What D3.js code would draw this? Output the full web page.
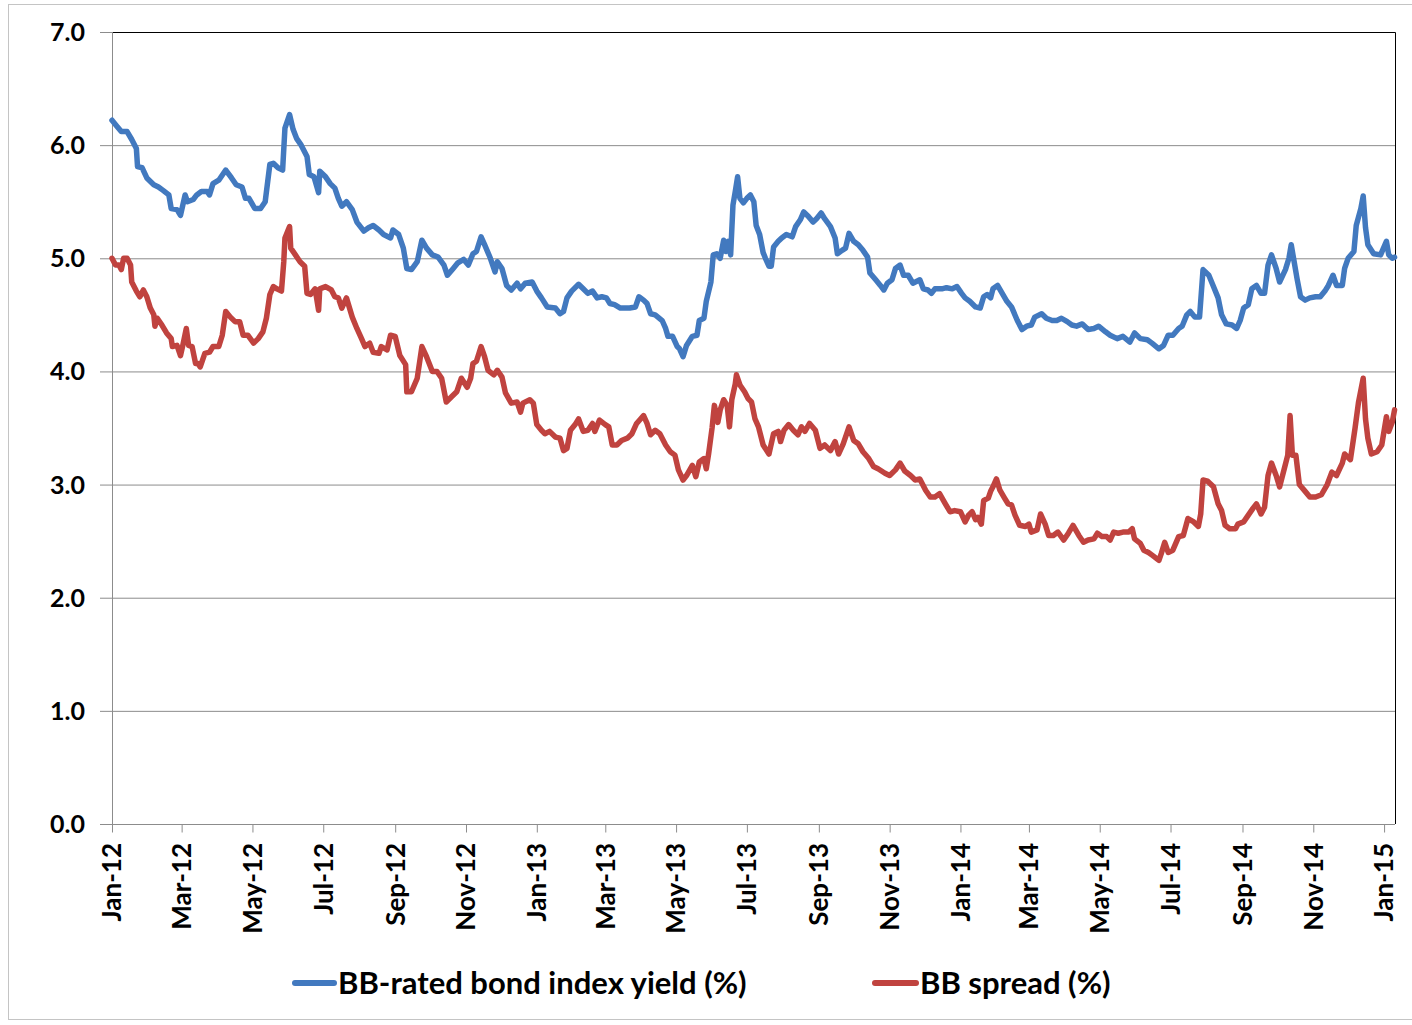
<!DOCTYPE html>
<html>
<head>
<meta charset="utf-8">
<script src="https://cdn.jsdelivr.net/npm/d3@7"></script>
<style>
  html, body { margin: 0; padding: 0; background: #fff; }
  svg { display: block; font-family: Lato, "Noto Sans", sans-serif; font-weight: bold; }
</style>
</head>
<body>
<svg id="chart" width="1412" height="1025"></svg>
<script>
// Series are [days after 1 Jan 2012, value in %]
const startDate = "2012-01-01";
const endDay = 1105.4;

const yieldSeries = [
  [0,6.22],[4,6.17],[8,6.12],[13,6.12],[17,6.05],[21,5.97],[22,5.81],[26,5.80],[30,5.71],[36,5.65],
  [40,5.63],[44,5.60],[49,5.56],[51,5.44],[56,5.43],[59,5.38],[63,5.56],[65,5.50],[70,5.52],[73,5.56],
  [77,5.59],[82,5.59],[84,5.56],[87,5.66],[92,5.69],[98,5.78],[103,5.71],[107,5.65],[112,5.63],[115,5.53],
  [118,5.53],[123,5.44],[128,5.44],[132,5.50],[136,5.83],[139,5.84],[143,5.80],[147,5.78],[149,6.15],[153,6.27],
  [156,6.14],[159,6.06],[163,6.00],[168,5.90],[170,5.74],[174,5.72],[178,5.58],[179,5.77],[184,5.72],[188,5.66],
  [192,5.62],[195,5.53],[198,5.46],[202,5.50],[207,5.43],[211,5.32],[217,5.24],[221,5.27],[225,5.29],[230,5.25],
  [234,5.21],[240,5.18],[242,5.25],[247,5.21],[251,5.09],[254,4.91],[258,4.90],[263,4.97],[267,5.16],[271,5.09],
  [276,5.03],[281,5.01],[286,4.94],[289,4.85],[294,4.91],[298,4.96],[303,4.99],[307,4.94],[311,5.04],[314,5.06],
  [318,5.19],[321,5.12],[326,5.00],[330,4.88],[332,4.97],[336,4.91],[340,4.76],[344,4.72],[349,4.78],[352,4.73],
  [356,4.78],[362,4.79],[366,4.71],[370,4.65],[375,4.57],[382,4.56],[386,4.51],[389,4.53],[392,4.65],[396,4.71],
  [402,4.77],[406,4.73],[410,4.69],[414,4.71],[418,4.65],[422,4.66],[426,4.65],[429,4.60],[433,4.59],[438,4.56],
  [442,4.56],[446,4.56],[451,4.57],[454,4.66],[458,4.63],[461,4.60],[464,4.51],[468,4.50],[474,4.45],[477,4.38],
  [479,4.31],[483,4.31],[487,4.22],[489,4.20],[492,4.13],[495,4.23],[500,4.31],[504,4.32],[506,4.45],[510,4.47],
  [512,4.62],[516,4.79],[518,5.03],[521,5.04],[524,5.00],[527,5.16],[529,5.06],[531,5.15],[533,5.03],[535,5.47],
  [537,5.59],[539,5.72],[541,5.53],[544,5.49],[547,5.53],[550,5.56],[553,5.50],[555,5.29],[558,5.21],[561,5.05],
  [563,5.00],[566,4.93],[568,4.93],[570,5.10],[574,5.15],[577,5.18],[581,5.21],[586,5.19],[589,5.28],[593,5.34],
  [596,5.41],[600,5.37],[604,5.32],[607,5.35],[611,5.40],[614,5.35],[619,5.28],[623,5.18],[625,5.04],[629,5.07],
  [632,5.09],[635,5.22],[639,5.15],[643,5.12],[647,5.07],[651,5.01],[653,4.87],[658,4.81],[662,4.76],[665,4.72],
  [668,4.78],[672,4.81],[675,4.91],[679,4.94],[682,4.85],[686,4.85],[690,4.78],[696,4.81],[699,4.73],[703,4.72],
  [706,4.69],[709,4.73],[715,4.73],[719,4.74],[724,4.73],[728,4.75],[732,4.69],[735,4.65],[739,4.62],[744,4.57],
  [748,4.56],[751,4.66],[754,4.68],[757,4.65],[759,4.73],[763,4.76],[767,4.69],[771,4.62],[775,4.57],[780,4.45],
  [784,4.37],[788,4.40],[792,4.41],[795,4.48],[801,4.51],[805,4.47],[810,4.45],[814,4.45],[818,4.47],[823,4.44],
  [827,4.41],[831,4.40],[836,4.42],[841,4.37],[846,4.38],[850,4.40],[856,4.35],[860,4.32],[866,4.29],[871,4.31],
  [877,4.26],[881,4.34],[886,4.29],[892,4.28],[896,4.25],[902,4.20],[906,4.23],[910,4.32],[914,4.32],[919,4.38],
  [922,4.40],[926,4.50],[929,4.53],[933,4.48],[937,4.48],[940,4.90],[945,4.85],[949,4.75],[953,4.65],[956,4.50],
  [960,4.42],[965,4.41],[969,4.38],[972,4.45],[975,4.56],[979,4.59],[982,4.73],[986,4.76],[990,4.69],[993,4.69],
  [996,4.94],[999,5.03],[1003,4.91],[1006,4.79],[1011,4.90],[1014,5.00],[1016,5.12],[1018,5.00],[1021,4.82],[1024,4.66],
  [1028,4.63],[1032,4.65],[1037,4.66],[1041,4.66],[1045,4.71],[1048,4.76],[1052,4.85],[1055,4.76],[1060,4.76],[1062,4.91],
  [1065,5.00],[1070,5.06],[1072,5.29],[1076,5.44],[1078,5.55],[1080,5.27],[1082,5.12],[1087,5.04],[1093,5.03],[1098,5.15],
  [1100,5.03],[1103,5.00],[1105,5.01]
];

const spreadSeries = [
  [0,5.00],[3,4.94],[6,4.94],[8,4.90],[10,5.00],[13,5.00],[16,4.94],[17,4.79],[21,4.71],[24,4.66],
  [27,4.72],[30,4.66],[33,4.56],[36,4.50],[37,4.40],[39,4.47],[43,4.41],[47,4.34],[51,4.29],[52,4.22],
  [56,4.23],[59,4.14],[61,4.23],[64,4.38],[66,4.23],[69,4.22],[72,4.07],[74,4.07],[76,4.04],[80,4.16],
  [84,4.17],[87,4.22],[92,4.22],[95,4.32],[98,4.53],[102,4.48],[106,4.44],[110,4.44],[113,4.32],[117,4.32],
  [122,4.25],[126,4.29],[130,4.35],[133,4.47],[136,4.68],[139,4.75],[142,4.73],[146,4.71],[148,4.97],[149,5.18],
  [153,5.28],[154,5.09],[158,5.03],[162,4.97],[166,4.93],[168,4.69],[171,4.68],[175,4.73],[178,4.54],[179,4.73],
  [184,4.75],[189,4.72],[192,4.66],[195,4.65],[198,4.56],[202,4.65],[207,4.48],[211,4.38],[215,4.29],[218,4.22],
  [222,4.25],[225,4.17],[230,4.16],[232,4.22],[237,4.19],[240,4.32],[244,4.31],[248,4.14],[253,4.06],[254,3.82],
  [258,3.82],[263,3.94],[267,4.22],[271,4.13],[276,4.00],[280,4.00],[284,3.94],[288,3.73],[293,3.78],[297,3.82],
  [301,3.94],[306,3.86],[309,3.94],[311,4.07],[314,4.09],[318,4.22],[321,4.13],[324,4.01],[329,3.97],[332,4.01],
  [336,3.95],[339,3.81],[344,3.72],[349,3.73],[352,3.64],[354,3.72],[360,3.75],[363,3.72],[366,3.53],[370,3.48],
  [373,3.45],[377,3.47],[382,3.42],[386,3.41],[389,3.30],[392,3.32],[395,3.48],[399,3.53],[402,3.58],[406,3.47],
  [410,3.48],[414,3.54],[416,3.47],[420,3.57],[425,3.53],[428,3.51],[431,3.35],[435,3.35],[439,3.39],[444,3.41],
  [448,3.45],[452,3.54],[458,3.61],[461,3.54],[464,3.44],[468,3.48],[472,3.45],[477,3.35],[481,3.29],[485,3.26],
  [488,3.13],[492,3.04],[495,3.08],[500,3.17],[503,3.07],[506,3.20],[510,3.23],[512,3.14],[514,3.27],[517,3.50],
  [519,3.70],[522,3.55],[524,3.66],[527,3.75],[530,3.70],[532,3.51],[534,3.75],[537,3.89],[538,3.97],[541,3.88],
  [545,3.82],[548,3.76],[551,3.73],[554,3.58],[557,3.51],[561,3.35],[566,3.27],[570,3.45],[574,3.47],[576,3.38],
  [579,3.48],[583,3.53],[587,3.48],[591,3.44],[594,3.51],[597,3.47],[601,3.54],[606,3.48],[610,3.32],[614,3.35],
  [619,3.30],[623,3.38],[626,3.27],[630,3.36],[635,3.51],[639,3.39],[643,3.36],[647,3.29],[652,3.23],[656,3.16],
  [660,3.14],[666,3.10],[670,3.08],[675,3.13],[679,3.19],[683,3.12],[688,3.08],[692,3.04],[696,3.05],[701,2.95],
  [705,2.89],[709,2.89],[713,2.92],[718,2.83],[722,2.76],[726,2.77],[731,2.76],[735,2.67],[738,2.73],[741,2.76],
  [744,2.69],[746,2.71],[749,2.65],[751,2.86],[755,2.88],[757,2.94],[759,2.98],[762,3.05],[765,2.95],[769,2.88],
  [772,2.83],[775,2.82],[778,2.73],[782,2.64],[787,2.63],[790,2.65],[792,2.58],[797,2.60],[800,2.74],[804,2.65],
  [807,2.55],[811,2.55],[815,2.58],[820,2.51],[824,2.57],[828,2.64],[833,2.55],[837,2.49],[841,2.51],[846,2.52],
  [849,2.57],[853,2.54],[857,2.54],[860,2.51],[863,2.58],[867,2.57],[871,2.58],[876,2.58],[879,2.61],[881,2.52],
  [886,2.48],[889,2.42],[893,2.40],[897,2.37],[902,2.33],[904,2.39],[907,2.49],[910,2.40],[914,2.42],[919,2.54],
  [923,2.55],[927,2.70],[932,2.67],[936,2.63],[938,2.74],[940,3.04],[944,3.03],[949,2.98],[953,2.83],[956,2.77],
  [959,2.64],[963,2.61],[968,2.61],[970,2.65],[975,2.67],[979,2.73],[983,2.79],[986,2.83],[990,2.74],[993,2.80],
  [996,3.08],[999,3.19],[1003,3.08],[1006,2.98],[1010,3.14],[1013,3.26],[1015,3.61],[1017,3.26],[1020,3.26],[1023,3.00],
  [1028,2.94],[1032,2.89],[1037,2.89],[1042,2.91],[1047,3.00],[1051,3.11],[1055,3.08],[1060,3.19],[1062,3.27],[1067,3.22],
  [1071,3.50],[1074,3.73],[1078,3.94],[1080,3.58],[1082,3.41],[1085,3.27],[1090,3.29],[1094,3.35],[1098,3.60],[1100,3.47],
  [1103,3.55],[1105,3.66]
];

const yTicks = [0, 1, 2, 3, 4, 5, 6, 7];
const seriesNames = ["BB-rated bond index yield (%)", "BB spread (%)"];
const seriesColors = ["#4279BF", "#C0433F"];

const svg = d3.select("#chart");
const plot = { left: 112, right: 1395, top: 32, bottom: 824 };

const t0 = d3.utcParse("%Y-%m-%d")(startDate);
const toDate = d => new Date(t0.getTime() + d * 864e5);

const x = d3.scaleUtc()
  .domain([t0, toDate(endDay)])
  .range([plot.left, plot.right]);
const y = d3.scaleLinear().domain([0, 7]).range([plot.bottom, plot.top]);

// Outer chart frame
svg.append("rect")
  .attr("x", 8.5).attr("y", 4.5)
  .attr("width", 1420).attr("height", 1015)
  .attr("fill", "none").attr("stroke", "#c4c4c4").attr("stroke-width", 1);

// Horizontal gridlines with outward tick stubs
const yAxis = d3.axisLeft(y)
  .tickValues(yTicks)
  .tickSize(-(plot.right - plot.left) - 12)
  .tickFormat("");
const gy = svg.append("g")
  .attr("transform", `translate(${plot.right},0)`)
  .call(yAxis);
gy.select(".domain").remove();
gy.selectAll(".tick line")
  .attr("x1", 0)
  .attr("x2", -(plot.right - plot.left) - 12)
  .attr("stroke", "#8c8c8c").attr("stroke-width", 1);

// Value labels
svg.append("g").selectAll("text")
  .data(yTicks).join("text")
  .attr("x", 85).attr("y", d => y(d))
  .attr("dy", "0.36em")
  .attr("text-anchor", "end")
  .attr("font-size", 25).attr("fill", "#000")
  .text(d3.format(".1f"));

// Plot area border (top and right)
svg.append("path")
  .attr("d", `M${plot.left},${plot.top + 0.5}H${plot.right + 0.5}V${plot.bottom}`)
  .attr("fill", "none").attr("stroke", "#000").attr("stroke-width", 1);

// Left value axis line
svg.append("line")
  .attr("x1", plot.left + 0.5).attr("x2", plot.left + 0.5)
  .attr("y1", plot.top).attr("y2", plot.bottom)
  .attr("stroke", "#8c8c8c");

// Date axis
const monthTicks = d3.utcMonth.every(2).range(t0, toDate(1100));
const xAxis = d3.axisBottom(x)
  .tickValues(monthTicks)
  .tickSize(8)
  .tickFormat("");
const gx = svg.append("g")
  .attr("transform", `translate(0,${plot.bottom + 0.5})`)
  .call(xAxis);
gx.select(".domain").attr("stroke", "#8c8c8c").attr("d", `M${plot.left},0H${plot.right}`);
gx.selectAll(".tick line").attr("stroke", "#8c8c8c");

const fmt = d3.utcFormat("%b-%y");
svg.append("g").selectAll("text")
  .data(monthTicks).join("text")
  .attr("transform", d => `translate(${x(d)},843) rotate(-90)`)
  .attr("dy", "0.36em")
  .attr("text-anchor", "end")
  .attr("font-size", 26).attr("fill", "#000")
  .text(d => fmt(d));

// Series lines
const line = d3.line()
  .x(d => x(toDate(d[0])))
  .y(d => y(d[1]))
  .curve(d3.curveLinear);

[yieldSeries, spreadSeries].forEach((s, i) => {
  svg.append("path")
    .datum(s)
    .attr("d", line)
    .attr("fill", "none")
    .attr("stroke", seriesColors[i])
    .attr("stroke-width", 5.5)
    .attr("stroke-linejoin", "round")
    .attr("stroke-linecap", "round");
});

// Legend
const legendItems = [
  { x0: 295, x1: 334, tx: 338 },
  { x0: 875, x1: 916, tx: 920 }
];
const lg = svg.append("g");
legendItems.forEach((it, i) => {
  lg.append("line")
    .attr("x1", it.x0).attr("x2", it.x1)
    .attr("y1", 983).attr("y2", 983)
    .attr("stroke", seriesColors[i]).attr("stroke-width", 6)
    .attr("stroke-linecap", "round");
  lg.append("text")
    .attr("x", it.tx).attr("y", 983)
    .attr("dy", "0.36em")
    .attr("font-size", 31).attr("fill", "#000")
    .text(seriesNames[i]);
});
</script>
</body>
</html>
